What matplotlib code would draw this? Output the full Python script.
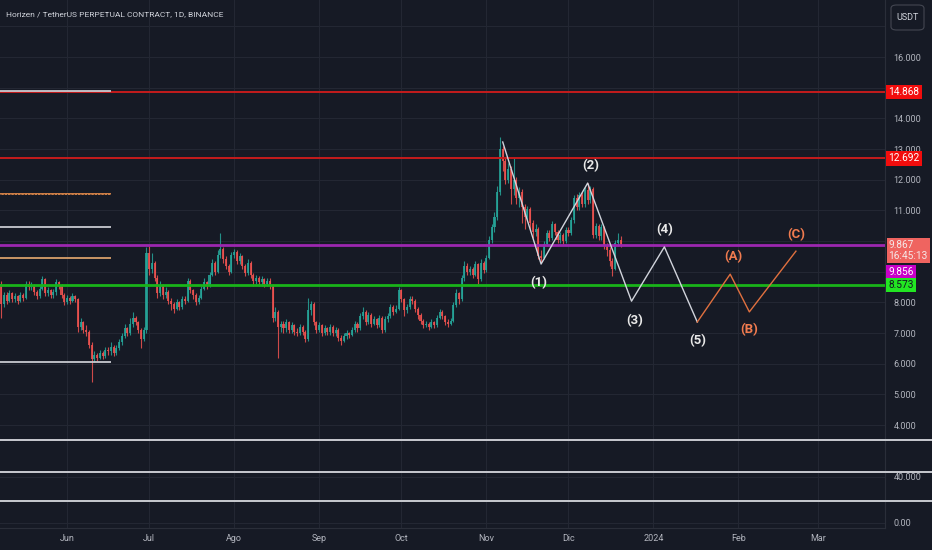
import numpy as np
import pandas as pd
import matplotlib
matplotlib.use('Agg')
import matplotlib.pyplot as plt
import matplotlib.dates as mdates
import matplotlib.transforms as mtransforms
from matplotlib.patches import FancyBboxPatch

# daily candles, starting 2023-05-08
start = '2023-05-08'
opens = [8.60, 7.95, 8.25, 8.05, 8.30, 8.10, 8.20, 8.05, 8.25, 8.15,
         8.60, 8.50, 8.55, 8.35, 8.20, 8.45, 8.75, 8.30, 8.40, 8.25,
         8.35, 8.65, 8.55, 8.25, 8.00, 8.15, 8.05, 8.20, 8.10, 7.20,
         7.35, 7.10, 7.05, 6.60, 6.15, 6.30, 6.20, 6.35, 6.25, 6.45,
         6.40, 6.55, 6.35, 6.50, 6.70, 6.90, 7.15, 7.00, 7.30, 7.50,
         7.35, 7.10, 6.80, 7.10, 9.60, 9.10, 9.30, 8.80, 8.30, 8.55,
         8.25, 8.35, 8.05, 7.95, 7.80, 8.00, 7.85, 8.10, 8.05, 8.70,
         8.40, 8.25, 8.00, 8.15, 8.45, 8.65, 8.55, 8.90, 9.30, 9.00,
         9.55, 9.75, 9.40, 9.20, 9.00, 9.55, 9.65, 9.35, 9.50, 9.20,
         8.95, 9.30, 8.90, 8.70, 8.80, 8.65, 8.75, 8.60, 8.70, 8.55,
         7.50, 7.70, 7.20, 7.30, 7.15, 7.35, 7.10, 7.25, 7.05, 7.00,
         7.20, 7.05, 6.80, 7.75, 7.95, 7.35, 7.10, 7.25, 7.00, 7.15,
         7.05, 7.20, 7.00, 7.10, 6.85, 6.75, 6.90, 7.00, 6.95, 7.10,
         7.30, 7.15, 7.55, 7.70, 7.35, 7.60, 7.30, 7.45, 7.25, 7.50,
         7.10, 7.45, 7.55, 7.85, 7.70, 7.80, 8.40, 8.10, 7.75, 7.85,
         8.10, 8.05, 7.80, 7.60, 7.40, 7.25, 7.30, 7.20, 7.35, 7.25,
         7.50, 7.70, 7.55, 7.35, 7.30, 7.40, 7.90, 8.30, 8.10, 8.80,
         9.20, 9.00, 9.10, 8.90, 9.25, 8.75, 9.30, 9.05, 9.45, 10.05,
         10.45, 10.80, 11.60, 13.00, 12.60, 12.00, 12.35, 11.70, 12.00, 11.40,
         11.60, 11.10, 10.80, 11.05, 10.60, 10.30, 10.40, 9.50, 9.45, 9.90,
         10.25, 10.10, 10.55, 10.30, 10.05, 10.20, 10.00, 10.35, 10.25, 10.70,
         11.40, 11.10, 11.50, 11.20, 11.65, 11.35, 11.70, 10.20, 10.50, 10.15,
         10.45, 9.85, 9.70, 9.35, 9.10, 9.95, 10.05]
closes = [7.95, 8.25, 8.05, 8.30, 8.10, 8.20, 8.05, 8.25, 8.15, 8.60,
          8.50, 8.55, 8.35, 8.20, 8.45, 8.75, 8.30, 8.40, 8.25, 8.35,
          8.65, 8.55, 8.25, 8.00, 8.15, 8.05, 8.20, 8.10, 7.20, 7.35,
          7.10, 7.05, 6.60, 6.15, 6.30, 6.20, 6.35, 6.25, 6.45, 6.40,
          6.55, 6.35, 6.50, 6.70, 6.90, 7.15, 7.00, 7.30, 7.50, 7.35,
          7.10, 6.80, 7.10, 9.60, 9.10, 9.30, 8.80, 8.30, 8.55, 8.25,
          8.35, 8.05, 7.95, 7.80, 8.00, 7.85, 8.10, 8.05, 8.70, 8.40,
          8.25, 8.00, 8.15, 8.45, 8.65, 8.55, 8.90, 9.30, 9.00, 9.55,
          9.75, 9.40, 9.20, 9.00, 9.55, 9.65, 9.35, 9.50, 9.20, 8.95,
          9.30, 8.90, 8.70, 8.80, 8.65, 8.75, 8.60, 8.70, 8.55, 7.50,
          7.70, 7.20, 7.30, 7.15, 7.35, 7.10, 7.25, 7.05, 7.00, 7.20,
          7.05, 6.80, 7.75, 7.95, 7.35, 7.10, 7.25, 7.00, 7.15, 7.05,
          7.20, 7.00, 7.10, 6.85, 6.75, 6.90, 7.00, 6.95, 7.10, 7.30,
          7.15, 7.55, 7.70, 7.35, 7.60, 7.30, 7.45, 7.25, 7.50, 7.10,
          7.45, 7.55, 7.85, 7.70, 7.80, 8.40, 8.10, 7.75, 7.85, 8.10,
          8.05, 7.80, 7.60, 7.40, 7.25, 7.30, 7.20, 7.35, 7.25, 7.50,
          7.70, 7.55, 7.35, 7.30, 7.40, 7.90, 8.30, 8.10, 8.80, 9.20,
          9.00, 9.10, 8.90, 9.25, 8.75, 9.30, 9.05, 9.45, 10.05, 10.45,
          10.80, 11.60, 13.00, 12.60, 12.00, 12.35, 11.70, 12.00, 11.40, 11.60,
          11.10, 10.80, 11.05, 10.60, 10.30, 10.40, 9.50, 9.45, 9.90, 10.25,
          10.10, 10.55, 10.30, 10.05, 10.20, 10.00, 10.35, 10.25, 10.70, 11.40,
          11.10, 11.50, 11.20, 11.65, 11.35, 11.70, 10.20, 10.50, 10.15, 10.45,
          9.85, 9.70, 9.35, 9.10, 9.95, 10.05, 9.87]
highs = [8.70, 8.35, 8.35, 8.40, 8.35, 8.30, 8.25, 8.35, 8.30, 8.70,
         8.70, 8.65, 8.60, 8.40, 8.55, 8.85, 8.80, 8.50, 8.45, 8.45,
         8.75, 8.70, 8.60, 8.30, 8.25, 8.20, 8.30, 8.25, 8.15, 7.50,
         7.40, 7.25, 7.10, 6.70, 6.40, 6.35, 6.45, 6.40, 6.55, 6.55,
         6.70, 6.60, 6.60, 6.80, 7.00, 7.30, 7.20, 7.50, 7.70, 7.55,
         7.40, 7.15, 7.20, 9.80, 9.85, 9.60, 9.35, 8.90, 8.70, 8.60,
         8.50, 8.40, 8.15, 8.00, 8.10, 8.05, 8.20, 8.20, 8.80, 8.75,
         8.45, 8.30, 8.25, 8.55, 8.80, 8.70, 9.00, 9.40, 9.35, 9.70,
         10.25, 9.80, 9.50, 9.25, 9.65, 9.75, 9.70, 9.60, 9.55, 9.25,
         9.40, 9.35, 8.95, 8.90, 8.85, 8.85, 8.80, 8.80, 8.80, 8.60,
         7.85, 7.75, 7.40, 7.40, 7.45, 7.40, 7.35, 7.30, 7.15, 7.30,
         7.25, 7.10, 8.15, 8.05, 8.00, 7.40, 7.35, 7.30, 7.25, 7.20,
         7.30, 7.25, 7.20, 7.15, 6.95, 7.00, 7.10, 7.05, 7.20, 7.40,
         7.35, 7.65, 7.85, 7.75, 7.70, 7.65, 7.55, 7.50, 7.60, 7.55,
         7.55, 7.65, 7.95, 7.90, 7.90, 8.50, 8.45, 8.15, 7.95, 8.20,
         8.20, 8.10, 7.85, 7.65, 7.45, 7.40, 7.35, 7.45, 7.40, 7.60,
         7.80, 7.75, 7.60, 7.45, 7.50, 8.00, 8.45, 8.35, 8.90, 9.35,
         9.30, 9.20, 9.15, 9.35, 9.30, 9.40, 9.35, 9.55, 10.15, 10.55,
         10.95, 11.80, 13.40, 13.10, 12.75, 12.55, 12.45, 12.70, 12.10, 11.75,
         11.70, 11.20, 11.15, 11.10, 10.70, 10.55, 10.45, 9.70, 10.00, 10.35,
         10.35, 10.65, 10.60, 10.35, 10.30, 10.25, 10.45, 10.45, 10.80, 11.50,
         11.55, 11.60, 11.60, 11.75, 11.90, 11.80, 11.75, 10.60, 10.55, 10.55,
         10.50, 9.95, 9.80, 9.45, 10.05, 10.25, 10.15]
lows = [7.50, 7.85, 7.95, 8.00, 8.00, 8.00, 7.95, 8.00, 8.05, 8.10,
        8.40, 8.40, 8.25, 8.10, 8.15, 8.40, 8.20, 8.20, 8.15, 8.15,
        8.25, 8.45, 8.15, 7.90, 7.95, 7.95, 8.00, 8.00, 7.05, 7.10,
        7.00, 6.90, 6.50, 5.40, 6.05, 6.10, 6.15, 6.15, 6.20, 6.30,
        6.30, 6.25, 6.30, 6.45, 6.60, 6.85, 6.90, 6.95, 7.20, 7.25,
        7.00, 6.50, 6.75, 7.00, 8.90, 8.95, 8.70, 8.15, 8.20, 8.10,
        8.15, 7.95, 7.75, 7.65, 7.75, 7.75, 7.80, 7.95, 8.00, 8.30,
        8.10, 7.90, 7.95, 8.10, 8.40, 8.45, 8.50, 8.85, 8.90, 8.95,
        9.45, 9.30, 9.10, 8.90, 8.95, 9.45, 9.25, 9.25, 9.10, 8.85,
        8.90, 8.80, 8.55, 8.60, 8.55, 8.55, 8.50, 8.55, 8.45, 7.35,
        7.40, 6.20, 7.05, 7.00, 7.05, 7.00, 7.00, 6.95, 6.90, 6.95,
        6.95, 6.70, 6.75, 7.60, 7.25, 7.00, 7.05, 6.90, 6.95, 6.95,
        6.95, 6.90, 6.90, 6.75, 6.60, 6.70, 6.80, 6.85, 6.90, 7.05,
        7.05, 7.10, 7.45, 7.25, 7.30, 7.20, 7.25, 7.15, 7.20, 7.00,
        7.05, 7.35, 7.50, 7.60, 7.65, 7.75, 8.00, 7.55, 7.65, 7.80,
        7.95, 7.70, 7.45, 7.30, 7.15, 7.20, 7.10, 7.15, 7.15, 7.20,
        7.45, 7.45, 7.25, 7.20, 7.25, 7.35, 7.85, 7.95, 8.05, 8.70,
        8.90, 8.90, 8.80, 8.85, 8.60, 8.70, 8.95, 9.00, 9.40, 9.95,
        10.30, 10.70, 11.50, 12.30, 11.85, 11.90, 11.20, 11.50, 11.20, 11.10,
        10.60, 10.40, 10.70, 10.35, 10.10, 10.15, 9.40, 9.30, 9.40, 9.85,
        10.00, 10.05, 10.20, 9.95, 9.95, 9.90, 9.95, 10.15, 10.20, 10.60,
        11.00, 11.00, 11.10, 11.10, 11.20, 11.25, 10.10, 10.10, 10.05, 10.05,
        9.75, 9.50, 9.20, 8.85, 9.05, 9.85, 9.80]

# horizontal levels
red_levels = [14.868, 12.692]
purple_level = 9.867
green_level = 8.573
short_white = [14.90, 10.47, 6.07]
short_orange = [11.53, 9.45]
short_end = '2023-06-17'
bottom_white = [3.51, 2.47, 1.52]

# elliott wave projection
wave_dates = ['2023-11-07', '2023-11-21', '2023-12-08', '2023-12-24', '2024-01-05',
              '2024-01-17', '2024-01-29', '2024-02-05', '2024-02-22']
wave_prices = [13.23, 9.25, 11.89, 8.04, 9.81, 7.36, 8.92, 7.69, 9.67]
wave_labels = ['(1)', '(2)', '(3)', '(4)', '(5)', '(A)', '(B)', '(C)']
label_dates = ['2023-11-20', '2023-12-09', '2023-12-25', '2024-01-05', '2024-01-17',
               '2024-01-30', '2024-02-05', '2024-02-22']
label_prices = [8.66, 12.45, 7.42, 10.36, 6.77, 9.48, 7.10, 10.20]

months = pd.date_range('2023-06-01', '2024-03-01', freq='MS')
month_labels = ['Jun', 'Jul', 'Ago', 'Sep', 'Oct', 'Nov', 'Dic', '2024', 'Feb', 'Mar']
price_ticks = [0.82, 2.31] + list(range(4, 18))
# 9, 10 and 15 sit under the price boxes on the scale
price_tick_labels = ['0.00', '40.000'] + ['' if v in (9, 10, 15) else '%.3f' % v
                                          for v in range(4, 18)]

bg = '#161a25'
grid = '#232733'
txt = '#b2b5be'
up, down = '#26a69a', '#ef5350'

plt.rcParams['font.family'] = ['Roboto', 'DejaVu Sans']

fig = plt.figure(figsize=(9.32, 5.5), dpi=100, facecolor=bg)
ax = fig.add_axes([0, 22 / 550, 885 / 932, 528 / 550])
ax.set_facecolor(bg)

x = mdates.date2num(pd.date_range(start, periods=len(closes), freq='D'))
o = np.array(opens)
c = np.array(closes)
col = np.where(c >= o, up, down)
ax.vlines(x, lows, highs, colors=col, linewidth=0.8, alpha=0.85, zorder=3)
ax.bar(x, np.maximum(np.abs(c - o), 0.02), bottom=np.minimum(o, c), width=0.75,
       color=col, alpha=0.85, linewidth=0, zorder=3)

ref = mdates.date2num(pd.Timestamp('2023-06-01'))
x0, x1 = ref - 24.45, ref + 298.5
ax.set_xlim(x0, x1)
ax.set_ylim(0.643, 17.86)

# levels
for lv in red_levels:
    ax.axhline(lv, color='#c41c1c', lw=1.4, zorder=4)
ax.axhline(purple_level, color='#9c27b0', lw=2, zorder=4)
ax.axhline(green_level, color='#19b319', lw=2, zorder=4)
xe = mdates.date2num(pd.Timestamp(short_end))
ax.hlines(short_white, x0, xe, color='#c8cad0', lw=1.3, zorder=5)
ax.hlines(short_orange[0], x0, xe, color='#e0894a', lw=1.3, zorder=5)
ax.hlines(short_orange[0], x0, xe, color='#161a25', lw=0.6, linestyles=(0, (1, 3)), zorder=5)
ax.hlines(short_orange[1], x0, xe, color='#d8a06a', lw=1.3, zorder=5)
for lv in bottom_white:
    ax.axhline(lv, xmin=0, xmax=932 / 885, color='#c8cad0', lw=1.4, clip_on=False, zorder=4)

# wave paths
wx = mdates.date2num(pd.to_datetime(wave_dates))
ax.plot(wx[:6], wave_prices[:6], color='#d1d4dc', lw=1, zorder=6)
ax.plot(wx[5:], wave_prices[5:], color='#e0703f', lw=1, zorder=6)
lx = mdates.date2num(pd.to_datetime(label_dates))
for i, (lbl, xx, yy) in enumerate(zip(wave_labels, lx, label_prices)):
    ax.text(xx, yy, lbl, color='#e8e8e8' if i < 5 else '#f07b4f', fontsize=9.5,
            fontweight='bold', ha='center', va='center', zorder=7)

# axes styling
ax.set_xticks(mdates.date2num(months))
ax.set_xticklabels(month_labels)
ax.set_yticks(price_ticks)
ax.set_yticklabels(price_tick_labels)
ax.yaxis.tick_right()
ax.tick_params(axis='both', length=0, colors=txt, labelsize=6.5)
ax.tick_params(axis='y', pad=6)
ax.tick_params(axis='x', pad=4)
ax.grid(True, color=grid, lw=0.8)
for s in ['top', 'left']:
    ax.spines[s].set_visible(False)
ax.spines['right'].set_color('#2a2e39')
ax.spines['bottom'].set_color('#2a2e39')

ax.text(6 / 885, 1 - 14 / 528, 'Horizen / TetherUS PERPETUAL CONTRACT, 1D, BINANCE',
        transform=ax.transAxes, color='#d1d4dc', fontsize=6, va='center', ha='left')

# price labels on the scale
tr = mtransforms.blended_transform_factory(ax.transAxes, ax.transData)
boxes = [(14.868, '14.868', '#f20d0d', 'white'),
         (12.692, '12.692', '#f20d0d', 'white'),
         (8.98, '9.856', '#c800c8', 'white'),
         (8.573, '8.573', '#22e622', '#131722')]
for yv, s, fc, tc in boxes:
    ax.text(1.004, yv, s, transform=tr, color=tc, fontsize=7.3, va='center', ha='left',
            bbox=dict(boxstyle='square,pad=0.22', fc=fc, ec='none'), clip_on=False, zorder=10)
ax.text(1.004, 9.69, '9.867\n16:45:13', transform=tr, color='#f5e8e8', fontsize=7.3,
        va='center', ha='left', linespacing=1.15,
        bbox=dict(boxstyle='square,pad=0.2', fc='#ef6460', ec='none'), clip_on=False, zorder=10)

fig.patches.append(FancyBboxPatch((891 / 932, 1 - 30 / 550), 33 / 932, 25 / 550,
                                  boxstyle='round,pad=0,rounding_size=0.006',
                                  transform=fig.transFigure, fc=bg, ec='#434651', lw=0.8))
fig.text(907.5 / 932, 1 - 17.5 / 550, 'USDT', color='#d1d4dc', fontsize=6.5,
         ha='center', va='center')

fig.savefig('out.png', dpi=100, facecolor=bg)
